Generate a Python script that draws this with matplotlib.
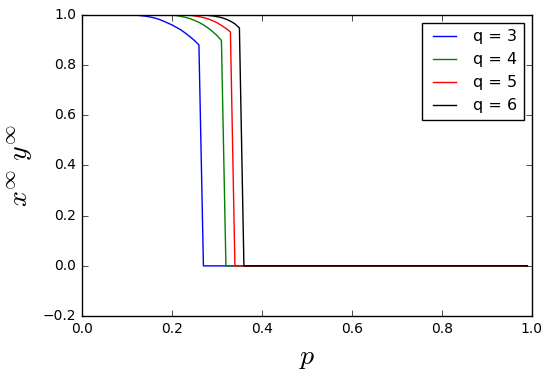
import matplotlib
matplotlib.use("Agg")
import matplotlib.pyplot as plt
import numpy as np

plt.style.use("classic")

p = [round(0.01 * i, 2) for i in range(100)]

q3 = [1.0] * 12 + [0.999, 0.997, 0.995, 0.992, 0.988, 0.983, 0.976, 0.968,
                   0.960, 0.950, 0.940, 0.927, 0.913, 0.898, 0.880] + [0.0] * 73
q4 = [1.0] * 20 + [0.999, 0.997, 0.994, 0.990, 0.985, 0.978, 0.970, 0.960,
                   0.948, 0.934, 0.918, 0.898] + [0.0] * 68
q5 = [1.0] * 23 + [0.999, 0.998, 0.996, 0.993, 0.989, 0.984, 0.977, 0.969,
                   0.958, 0.946, 0.932] + [0.0] * 66
q6 = [1.0] * 27 + [0.999, 0.998, 0.996, 0.993, 0.989, 0.983, 0.975, 0.964,
                   0.948] + [0.0] * 64

labels = ["q = 3", "q = 4", "q = 5", "q = 6"]
colors = ["b", "g", "r", "k"]

fig = plt.figure(figsize=(5.5, 3.71), dpi=100, facecolor="white")
ax = fig.add_axes([0.149, 0.148, 0.818, 0.812])
for ys, lab, c in zip([q3, q4, q5, q6], labels, colors):
    ax.plot(p, ys, color=c, label=lab, lw=1)

ax.set_xlim(0, 1)
ax.set_ylim(-0.2, 1.0)
ax.set_xticks(np.arange(0, 1.01, 0.2))
ax.set_yticks(np.arange(-0.2, 1.01, 0.2))
ax.tick_params(labelsize=10)
ax.set_xlabel(r"$p$", fontsize=20)
ax.set_ylabel(r"$x^{\infty}\ y^{\infty}$", fontsize=20)
ax.legend(loc="upper right", fontsize=11.5)

fig.savefig("out.png", dpi=100, facecolor="white")
